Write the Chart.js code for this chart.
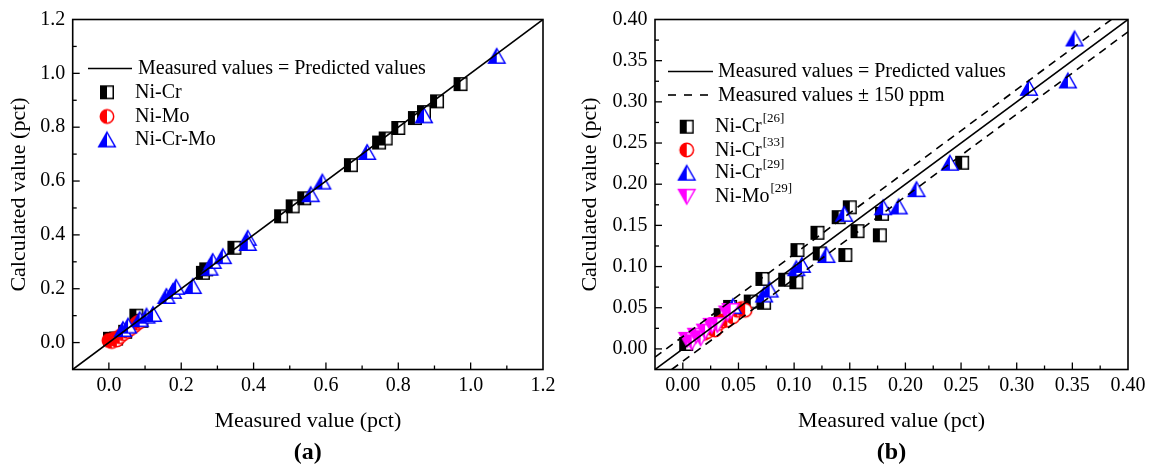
<!DOCTYPE html>
<html><head><meta charset="utf-8">
<script src="https://cdn.jsdelivr.net/npm/chart.js@4.4.1/dist/chart.umd.min.js"></script>
<style>
html,body{margin:0;padding:0;background:#fff;width:1155px;height:468px;overflow:hidden}
#wa{position:absolute;left:0;top:0;width:560px;height:468px}
#wb{position:absolute;left:560px;top:0;width:595px;height:468px}
</style></head><body>
<div id="wa"><canvas id="ca" width="560" height="468"></canvas></div>
<div id="wb"><canvas id="cb" width="595" height="468"></canvas></div>
<script>
// ---------- Panel (a) data ----------
const aNiCrX = [0.003, 0.020, 0.045, 0.076, 0.090, 0.260, 0.269, 0.347, 0.476, 0.508, 0.540, 0.669, 0.747, 0.765, 0.800, 0.846, 0.871, 0.907, 0.972];
const aNiCrY = [0.014, 0.015, 0.040, 0.100, 0.081, 0.259, 0.272, 0.352, 0.469, 0.506, 0.536, 0.659, 0.743, 0.758, 0.797, 0.834, 0.856, 0.896, 0.960];
const aNiMoX = [0.000, 0.008, 0.015, 0.022, 0.030, 0.040, 0.050, 0.060, 0.070, 0.078, 0.085];
const aNiMoY = [0.008, 0.004, 0.014, 0.010, 0.022, 0.033, 0.042, 0.052, 0.062, 0.072, 0.078];
const aNiCrMoX = [0.039, 0.053, 0.085, 0.104, 0.122, 0.159, 0.177, 0.186, 0.232, 0.278, 0.287, 0.315, 0.384, 0.384, 0.558, 0.590, 0.714, 0.871, 1.072];
const aNiCrMoY = [0.050, 0.063, 0.087, 0.100, 0.106, 0.173, 0.192, 0.207, 0.210, 0.278, 0.303, 0.321, 0.389, 0.370, 0.551, 0.598, 0.708, 0.844, 1.065];
const aLineX = [-0.1, 1.2];
const aLineY = [-0.1, 1.2];
const aTicks = [0.0, 0.2, 0.4, 0.6, 0.8, 1.0, 1.2];
const aMinor = [-0.1, 0.1, 0.3, 0.5, 0.7, 0.9, 1.1];

// ---------- Panel (b) data ----------
const bNiCr26X = [0.003, 0.034, 0.0425, 0.061, 0.073, 0.0715, 0.092, 0.102, 0.103, 0.121, 0.123, 0.140, 0.146, 0.150, 0.157, 0.177, 0.179, 0.251];
const bNiCr26Y = [0.006, 0.041, 0.051, 0.0575, 0.056, 0.085, 0.084, 0.081, 0.120, 0.141, 0.116, 0.160, 0.114, 0.172, 0.143, 0.138, 0.164, 0.226];
const bNiCr33X = [0.019, 0.022, 0.026, 0.029, 0.032, 0.036, 0.040, 0.045, 0.049, 0.053, 0.056];
const bNiCr33Y = [0.019, 0.021, 0.025, 0.023, 0.031, 0.034, 0.035, 0.039, 0.047, 0.049, 0.047];
const bNiCr29X = [0.045, 0.073, 0.078, 0.102, 0.107, 0.129, 0.145, 0.180, 0.194, 0.210, 0.240, 0.311, 0.346, 0.352];
const bNiCr29Y = [0.052, 0.066, 0.072, 0.098, 0.102, 0.114, 0.164, 0.172, 0.173, 0.194, 0.226, 0.317, 0.326, 0.377];
const bNiMo29X = [0.004, 0.008, 0.012, 0.016, 0.020, 0.026, 0.031, 0.040, 0.043];
const bNiMo29Y = [0.011, 0.008, 0.016, 0.013, 0.021, 0.028, 0.029, 0.043, 0.046];
const bLineX = [-0.025, 0.40];
const bLineY = [-0.025, 0.40];
const bUpperX = [-0.025, 0.385];
const bUpperY = [-0.010, 0.400];
const bLowerX = [-0.010, 0.400];
const bLowerY = [-0.025, 0.385];
const bTicks = [0.00, 0.05, 0.10, 0.15, 0.20, 0.25, 0.30, 0.35, 0.40];
const bMinor = [-0.025, 0.025, 0.075, 0.125, 0.175, 0.225, 0.275, 0.325, 0.375];

const FONT = "'Liberation Serif','Times New Roman',serif";
const BLUE = '#0000ff', RED = '#ff0000', MAG = '#ff00ff', BLK = '#000000';

function marker(kind, color) {
  const c = document.createElement('canvas');
  const W = 22, H = 22; c.width = W; c.height = H;
  const g = c.getContext('2d');
  const cx = W / 2, cy = H / 2;
  let path;
  if (kind === 'square') { const s = 12.5; path = p => p.rect(cx - s / 2, cy - s / 2, s, s); }
  else if (kind === 'circle') { const r = 6.7; path = p => p.arc(cx, cy, r, 0, Math.PI * 2); }
  else if (kind === 'tri') { const w = 16.5, h = 14.5; path = p => { p.moveTo(cx, cy - h / 2); p.lineTo(cx + w / 2, cy + h / 2); p.lineTo(cx - w / 2, cy + h / 2); p.closePath(); }; }
  else { const w = 16.5, h = 14.5; path = p => { p.moveTo(cx, cy + h / 2); p.lineTo(cx + w / 2, cy - h / 2); p.lineTo(cx - w / 2, cy - h / 2); p.closePath(); }; }
  g.beginPath(); path(g); g.fillStyle = '#fff'; g.fill();
  g.save(); g.beginPath(); g.rect(0, 0, cx, H); g.clip();
  g.beginPath(); path(g); g.fillStyle = color; g.fill(); g.restore();
  g.beginPath(); path(g); g.lineWidth = 1.5; g.strokeStyle = color; g.stroke();
  return c;
}
const mSq = marker('square', BLK), mCi = marker('circle', RED), mTr = marker('tri', BLUE), mIt = marker('inv', MAG);

const pts = (xs, ys) => xs.map((x, i) => ({ x: x, y: ys[i] }));
const scatterDs = (xs, ys, img) => ({ data: pts(xs, ys), pointStyle: img, pointRadius: 8, showLine: false });
const lineDs = (xs, ys, dash) => ({ data: pts(xs, ys), showLine: true, pointRadius: 0, borderColor: BLK, borderWidth: 1.6, borderDash: dash || [], fill: false });

function framePlugin(major, minor, legendFn, label) {
  return {
    id: 'frame',
    afterDraw(chart) {
      const ctx = chart.ctx, a = chart.chartArea, x = chart.scales.x, y = chart.scales.y;
      ctx.save();
      ctx.strokeStyle = BLK; ctx.lineWidth = 1.6;
      ctx.strokeRect(a.left, a.top, a.right - a.left, a.bottom - a.top);
      ctx.lineWidth = 1.3;
      const tick = (v, len) => {
        const px = x.getPixelForValue(v);
        if (px > a.left + 1 && px < a.right - 1) { ctx.beginPath(); ctx.moveTo(px, a.bottom); ctx.lineTo(px, a.bottom - len); ctx.stroke(); }
        const py = y.getPixelForValue(v);
        if (py > a.top + 1 && py < a.bottom - 1) { ctx.beginPath(); ctx.moveTo(a.left, py); ctx.lineTo(a.left + len, py); ctx.stroke(); }
      };
      major.forEach(v => tick(v, 7));
      minor.forEach(v => tick(v, 4));
      legendFn(ctx);
      ctx.fillStyle = BLK;
      ctx.font = 'bold 24px ' + FONT;
      ctx.textAlign = 'center'; ctx.textBaseline = 'middle';
      ctx.fillText(label, (a.left + a.right) / 2, 453);
      ctx.restore();
    }
  };
}

function textWithSup(ctx, x, y, main, sup) {
  ctx.font = '20px ' + FONT; ctx.textAlign = 'left'; ctx.textBaseline = 'middle'; ctx.fillStyle = BLK;
  ctx.fillText(main, x, y);
  if (sup) {
    const w = ctx.measureText(main).width;
    ctx.font = '13px ' + FONT;
    ctx.fillText(sup, x + w + 1, y - 8);
  }
}

function legendA(ctx) {
  ctx.strokeStyle = BLK; ctx.lineWidth = 1.6; ctx.setLineDash([]);
  ctx.beginPath(); ctx.moveTo(88, 68.5); ctx.lineTo(132, 68.5); ctx.stroke();
  textWithSup(ctx, 138, 69, 'Measured values = Predicted values');
  ctx.drawImage(mSq, 107 - 11, 92.3 - 11);
  textWithSup(ctx, 135, 92.5, 'Ni-Cr');
  ctx.drawImage(mCi, 107 - 11, 116.5 - 11);
  textWithSup(ctx, 135, 116.5, 'Ni-Mo');
  ctx.drawImage(mTr, 107 - 11, 139.5 - 11);
  textWithSup(ctx, 135, 140, 'Ni-Cr-Mo');
}

function legendB(ctx) {
  ctx.strokeStyle = BLK; ctx.lineWidth = 1.6; ctx.setLineDash([]);
  ctx.beginPath(); ctx.moveTo(108, 71.5); ctx.lineTo(153, 71.5); ctx.stroke();
  textWithSup(ctx, 158, 72, 'Measured values = Predicted values');
  ctx.setLineDash([8, 8]);
  ctx.beginPath(); ctx.moveTo(108, 95); ctx.lineTo(153, 95); ctx.stroke();
  ctx.setLineDash([]);
  textWithSup(ctx, 158, 95.5, 'Measured values \u00b1 150 ppm');
  ctx.drawImage(mSq, 126.7 - 11, 126.7 - 11);
  textWithSup(ctx, 155, 127, 'Ni-Cr', '[26]');
  ctx.drawImage(mCi, 126.7 - 11, 150 - 11);
  textWithSup(ctx, 155, 150.5, 'Ni-Cr', '[33]');
  ctx.drawImage(mTr, 126.7 - 11, 172.7 - 11);
  textWithSup(ctx, 155, 173, 'Ni-Cr', '[29]');
  ctx.drawImage(mIt, 126.7 - 11, 196.7 - 11);
  textWithSup(ctx, 155, 197, 'Ni-Mo', '[29]');
}

function axes(min, max, ticks, fmtDigits, yWidth, yTitlePad) {
  const tickFont = { family: FONT, size: 20 };
  const titleFont = { family: FONT, size: 22 };
  return {
    x: {
      type: 'linear', min: min, max: max,
      afterBuildTicks: s => { s.ticks = ticks.map(v => ({ value: v })); },
      afterFit: s => { s.height = 98.5; },
      grid: { display: false, drawTicks: false }, border: { display: false },
      ticks: { autoSkip: false, maxRotation: 0, minRotation: 0, padding: 4.5, font: tickFont, color: BLK, callback: v => Number(v).toFixed(fmtDigits) },
      title: { display: true, text: 'Measured value (pct)', font: titleFont, color: BLK, padding: { top: 0, bottom: 34 } }
    },
    y: {
      type: 'linear', min: min, max: max,
      afterBuildTicks: s => { s.ticks = ticks.map(v => ({ value: v })); },
      afterFit: s => { s.width = yWidth; },
      grid: { display: false, drawTicks: false }, border: { display: false },
      ticks: { autoSkip: false, padding: 7.5, font: tickFont, color: BLK, callback: v => Number(v).toFixed(fmtDigits) },
      title: { display: true, text: 'Calculated value (pct)', font: titleFont, color: BLK, padding: { top: yTitlePad, bottom: 0 } }
    }
  };
}

const common = {
  responsive: false, animation: false, events: [],
  plugins: { legend: { display: false }, tooltip: { enabled: false }, title: { display: false } }
};

new Chart(document.getElementById('ca'), {
  type: 'scatter',
  data: {
    datasets: [
      lineDs(aLineX, aLineY),
      scatterDs(aNiCrMoX, aNiCrMoY, mTr),
      scatterDs(aNiMoX, aNiMoY, mCi),
      scatterDs(aNiCrX, aNiCrY, mSq)
    ]
  },
  options: Object.assign({}, common, {
    layout: { padding: { left: 0, right: 15, top: 17, bottom: 0 } },
    scales: axes(-0.1, 1.2, aTicks, 1, 72.7, 6)
  }),
  plugins: [framePlugin(aTicks, aMinor, legendA, '(a)')]
});

new Chart(document.getElementById('cb'), {
  type: 'scatter',
  data: {
    datasets: [
      lineDs(bLineX, bLineY),
      lineDs(bUpperX, bUpperY, [8, 6]),
      lineDs(bLowerX, bLowerY, [8, 6]),
      scatterDs(bNiMo29X, bNiMo29Y, mIt),
      scatterDs(bNiCr29X, bNiCr29Y, mTr),
      scatterDs(bNiCr33X, bNiCr33Y, mCi),
      scatterDs(bNiCr26X, bNiCr26Y, mSq)
    ]
  },
  options: Object.assign({}, common, {
    layout: { padding: { left: 0, right: 27, top: 17, bottom: 0 } },
    scales: axes(-0.025, 0.40, bTicks, 2, 95, 17)
  }),
  plugins: [framePlugin(bTicks, bMinor, legendB, '(b)')]
});
</script>
</body></html>
